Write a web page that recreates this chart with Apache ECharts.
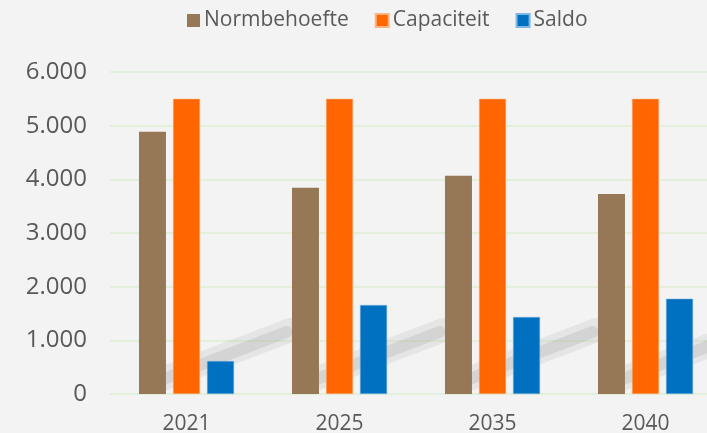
<!DOCTYPE html>
<html><head><meta charset="utf-8">
<script src="https://cdn.jsdelivr.net/npm/echarts@6/dist/echarts.min.js"></script>
<style>html,body{margin:0;padding:0;background:#f3f3f3}#c{width:707px;height:433px}</style>
</head><body><div id="c"></div>
<script>
const categories = ['2021', '2025', '2035', '2040'];
const normbehoefte = [4885, 3842, 4065, 3725];
const capaciteit = [5500, 5500, 5500, 5500];
const saldo = [615, 1658, 1435, 1775];
const yTicks = [0, 1000, 2000, 3000, 4000, 5000, 6000];

const fmt = v => v === 0 ? '0' : String(v).replace(/\B(?=(\d{3})+(?!\d))/g, '.');
const font = '"Open Sans", "Noto Sans", sans-serif';
const chart = echarts.init(document.getElementById('c'), null, {renderer: 'canvas'});
chart.setOption({
  backgroundColor: '#f3f3f3',
  animation: false,
  textStyle: {fontFamily: font},
  legend: {
    top: 5, left: 182,
    itemWidth: 13, itemHeight: 13, itemGap: 26,
    icon: 'rect',
    textStyle: {fontSize: 21, color: '#595959', fontFamily: font, padding: [0, 0, 0, -1]},
    data: ['Normbehoefte', 'Capaciteit', 'Saldo']
  },
  grid: {left: 110, right: -15, top: 72, bottom: 39, outerBoundsMode: 'none', containLabel: false},
  xAxis: {
    type: 'category', data: categories,
    axisLine: {show: true, lineStyle: {color: '#e2efda', width: 2}},
    axisTick: {show: false},
    axisLabel: {fontSize: 21, color: '#595959', margin: 20, fontFamily: font}
  },
  yAxis: {
    type: 'value', min: yTicks[0], max: yTicks[yTicks.length - 1], interval: 1000,
    axisLine: {show: false}, axisTick: {show: false},
    splitLine: {lineStyle: {color: '#e2efda', width: 2}},
    axisLabel: {fontSize: 24, color: '#595959', margin: 23, fontFamily: font, formatter: fmt}
  },
  series: [
    {name: 'Normbehoefte', type: 'bar', data: normbehoefte, barWidth: 27, barGap: '26%', z: 3,
     itemStyle: {color: '#967856'}},
    {name: 'Capaciteit', type: 'bar', data: capaciteit, barWidth: 27, barGap: '26%', z: 3,
     itemStyle: {color: '#ff6600', borderColor: '#ffb380', borderWidth: 0.5}},
    {name: 'Saldo', type: 'bar', data: saldo, barWidth: 27, barGap: '26%', z: 3,
     itemStyle: {color: '#0070c0', borderColor: '#7fb7e0', borderWidth: 0.5}}
  ]
});

// decorative blurred diagonal shadows behind each bar group
const shadows = [];
categories.forEach((c, i) => {
  const p = chart.convertToPixel({xAxisIndex: 0, yAxisIndex: 0}, [i, 0]);
  shadows.push({
    type: 'line', z: 1, silent: true,
    shape: {x1: p[0] - 32, y1: p[1] - 12, x2: p[0] + 104, y2: p[1] - 64},
    style: {stroke: 'rgba(150,150,150,0.14)', lineWidth: 24, lineCap: 'round'}
  });
  shadows.push({
    type: 'line', z: 1, silent: true,
    shape: {x1: p[0] - 28, y1: p[1] - 13, x2: p[0] + 100, y2: p[1] - 62},
    style: {stroke: 'rgba(140,140,140,0.18)', lineWidth: 12, lineCap: 'round'}
  });
});
chart.setOption({graphic: shadows});
</script></body></html>
